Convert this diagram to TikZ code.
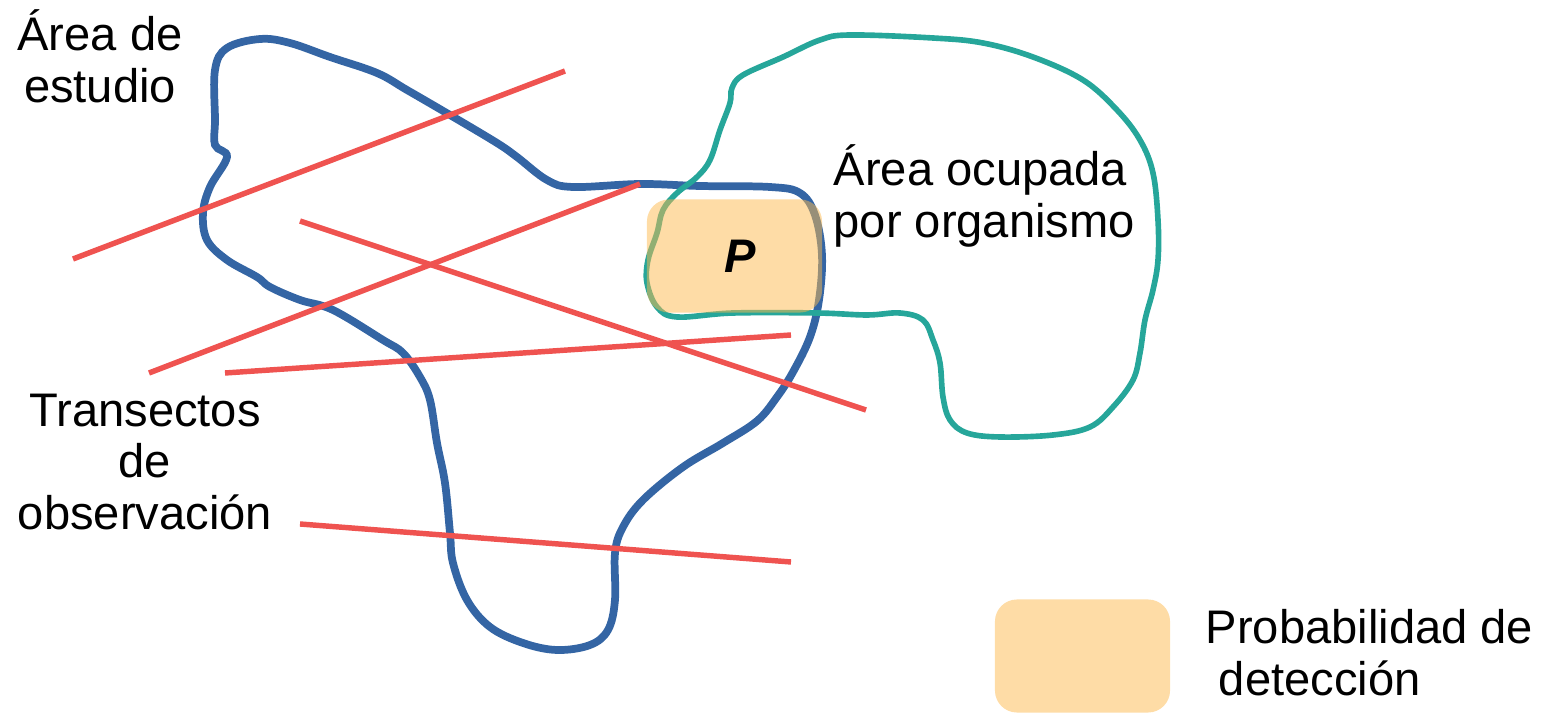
\documentclass[tikz,border=0pt]{standalone}
\usepackage{fontspec}
\setmainfont{Liberation Sans}
\usetikzlibrary{positioning}
\definecolor{transred}{RGB}{239,83,80}
\definecolor{studyblue}{RGB}{52,101,164}
\definecolor{occgreen}{RGB}{38,166,154}
\definecolor{detorange}{RGB}{253,185,77}

\tikzset{
    transect/.style={transred, line width=1.55pt},
    lbl/.style={font=\fontsize{13.4}{14.7}\selectfont, inner sep=0pt},
    detbox/.style={fill=detorange, fill opacity=0.5, text opacity=1, rounded corners=0.22cm, minimum width=1.75cm, minimum height=1.13cm, inner sep=0pt},
}

\begin{document}
\begin{tikzpicture}[x=0.01cm, y=-0.01cm]
    \useasboundingbox (0,0) rectangle (1557,713);

    % area de estudio
    \draw[studyblue, line width=2.2pt] plot[smooth cycle, tension=0.6] coordinates {
        (227,157) (215,145) (215,120) (215,70) (227,48) (260,39) (290,43) (330,57) (377,73) (407,90)
        (450,115) (497,143) (517,157) (547,180) (573,187) (640,184) (700,186) (770,187) (800,193)
        (815,215) (822,255) (819,300) (810,337) (793,372) (777,397) (757,421) (723,443) (683,467)
        (643,500) (623,527) (615,553) (615,600) (608,630) (590,645) (557,650) (523,643) (490,627)
        (467,600) (453,563) (450,533) (445,483) (437,443) (430,400) (420,377) (403,353) (383,340)
        (333,310) (300,300) (270,287) (257,277) (227,260) (207,240) (203,213) (210,187)};

    % area ocupada
    \draw[occgreen, line width=1.6pt] plot[smooth cycle, tension=0.6] coordinates {
        (732,88) (743,75) (783,57) (820,40) (850,35) (933,38) (983,43) (1033,57) (1083,80) (1117,110)
        (1140,140) (1153,173) (1158,220) (1158,260) (1153,290) (1145,320) (1140,353) (1133,380)
        (1113,407) (1090,427) (1053,435) (1000,437) (967,433) (950,420) (943,397) (940,363) (933,340)
        (923,320) (900,313) (867,315) (817,313) (733,313) (677,317) (657,307) (647,283) (648,260)
        (657,233) (663,210) (677,193) (697,177) (710,160) (720,130) (730,103)};

    % transectos
    \coordinate (t1a) at (73,259);  \coordinate (t1b) at (565,71);
    \coordinate (t2a) at (149,373); \coordinate (t2b) at (640,184);
    \coordinate (t3a) at (300,221); \coordinate (t3b) at (866,410);
    \coordinate (t4a) at (225,373); \coordinate (t4b) at (791,335);
    \coordinate (t5a) at (300,524); \coordinate (t5b) at (791,562);
    \foreach \i in {1,...,5}
        \draw[transect] (t\i a) -- (t\i b);

    % probabilidad de deteccion
    \node[detbox] (pbox) at (734.5,256) {\fontsize{13.4}{14.7}\selectfont\hspace{0.11cm}\textbf{\textit{P}}};
    \node[detbox] (legendbox) at (1082.5,656) {};

    \node[lbl, align=center] (studylabel) at (100,56) {Área de\\estudio};
    \node[lbl, align=center] (translabel) at (145,462) {Transectos\\de\\observación};
    \node[lbl, align=left, anchor=west] (occlabel) at (833,196) {Área ocupada\\por organismo};
    \node[lbl, align=left, anchor=west] (detlabel) at (1205,653) {Probabilidad de\\\hspace{0.28em}detección};
\end{tikzpicture}
\end{document}
